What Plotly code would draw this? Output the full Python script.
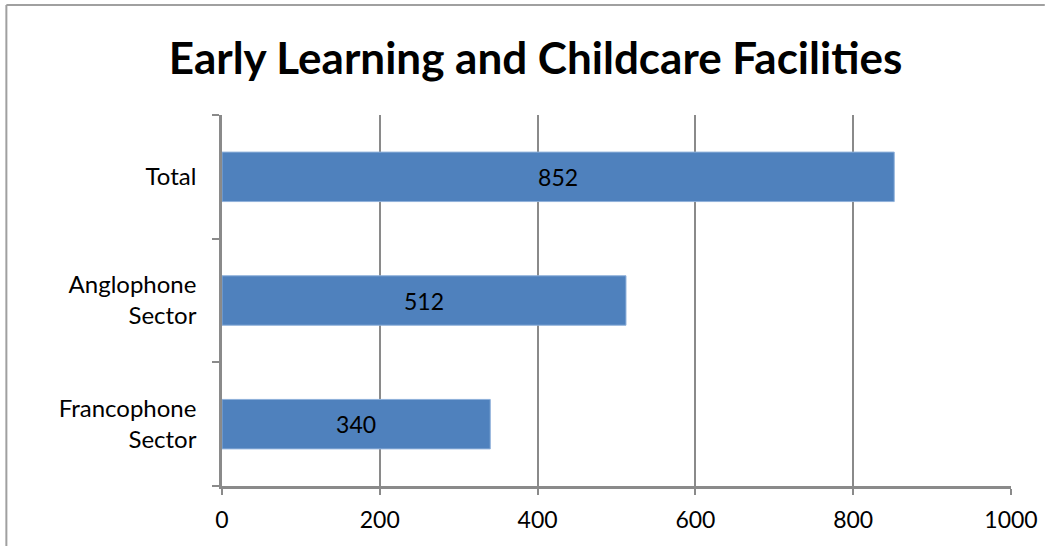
import plotly.graph_objects as go

categories = ["Total", "Anglophone<br>Sector", "Francophone<br>Sector"]
values = [852, 512, 340]
x_ticks = [0, 200, 400, 600, 800, 1000]
title_text = "Early Learning and Childcare Facilities"

FONT = "Lato, Carlito, Calibri, sans-serif"
GRID = "#8A8A8A"

W, H = 1050, 546
ML, MR, MT, MB = 222, 34, 115, 60
PW, PH = W - ML - MR, H - MT - MB

fig = go.Figure(go.Bar(
    y=categories,
    x=values,
    orientation="h",
    marker=dict(color="#4F81BD", line=dict(color="#8EB0DA", width=1)),
    width=0.4,
    text=[str(v) for v in values],
    textposition="inside",
    insidetextanchor="middle",
    textfont=dict(family=FONT, size=23, color="black"),
    hoverinfo="skip",
))

fig.update_layout(
    width=W, height=H,
    margin=dict(l=ML, r=MR, t=MT, b=MB),
    paper_bgcolor="white", plot_bgcolor="white",
    showlegend=False,
    title=dict(text="<b>" + title_text + "</b>", x=0.51, xanchor="center",
               y=0.893, yanchor="middle",
               font=dict(family=FONT, size=44, color="black")),
    font=dict(family=FONT, size=23, color="black"),
    bargap=0.6,
)

fig.update_xaxes(
    range=[0, 1000], tickvals=x_ticks, ticktext=[str(t) for t in x_ticks],
    showgrid=True, gridcolor=GRID, gridwidth=1.6,
    showline=True, linecolor=GRID, linewidth=2.5,
    ticks="outside", ticklen=6, tickcolor=GRID, tickwidth=1.6,
    ticklabelstandoff=6,
    zeroline=False, fixedrange=True,
    tickfont=dict(family=FONT, size=23, color="black"),
)
fig.update_yaxes(
    categoryorder="array", categoryarray=categories[::-1],
    showgrid=False, showline=True, linecolor=GRID, linewidth=2.5,
    ticks="outside", tickson="boundaries", ticklen=7, tickcolor=GRID, tickwidth=1.6,
    ticklabelstandoff=18,
    tickfont=dict(family=FONT, size=24, color="black"),
    fixedrange=True,
)

# chart border (only top and left edges visible in the reference), kept inside the figure
bx = (5 - ML) / PW
by = (H - MB - 5) / PH
fig.add_shape(type="line", xref="paper", yref="paper",
              x0=bx, x1=(W - ML) / PW, y0=by, y1=by,
              line=dict(color="#A0A0A0", width=2), layer="below")
fig.add_shape(type="line", xref="paper", yref="paper",
              x0=bx, x1=bx, y0=by, y1=-MB / PH,
              line=dict(color="#A0A0A0", width=2), layer="below")

fig.write_html("out.html",
               config={"displayModeBar": False},
               post_script="document.body.style.margin='0';document.body.style.padding='0';document.body.style.overflow='hidden';")
